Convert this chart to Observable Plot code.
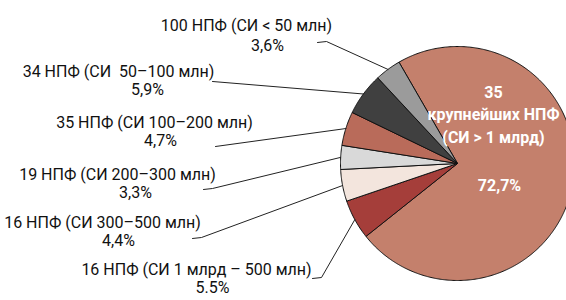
<!DOCTYPE html>
<html>
<head>
<meta charset="utf-8">
<script src="https://cdn.jsdelivr.net/npm/d3@7"></script>
<script src="https://cdn.jsdelivr.net/npm/@observablehq/plot@0.6"></script>
<style>
  html, body { margin: 0; padding: 0; background: #fff; }
  #chart { width: 566px; height: 300px; overflow: hidden; }
</style>
</head>
<body>
<div id="chart"></div>
<script>
// ---- data ----
const categories = [
  "35 крупнейших НПФ (СИ > 1 млрд)",
  "16 НПФ (СИ 1 млрд – 500 млн)",
  "16 НПФ (СИ 300–500 млн)",
  "19 НПФ (СИ 200–300 млн)",
  "35 НПФ (СИ 100–200 млн)",
  "34 НПФ (СИ  50–100 млн)",
  "100 НПФ (СИ < 50 млн)"
];
const shares = [72.7, 5.5, 4.4, 3.3, 4.7, 5.9, 3.6];
const shareLabels = ["72,7%", "5.5%", "4,4%", "3,3%", "4,7%", "5,9%", "3,6%"];
const bigLabelLines = ["35", "крупнейших НПФ", "(СИ > 1 млрд)"];

// ---- styles / layout ----
const colors = ["#c4806c", "#a53e3a", "#f3e5dd", "#d9d9d9", "#b96b5a", "#404040", "#9b9b9b"];
const cx = 457, cy = 163, R = 117;
const startDeg = -30;
const labelLayout = [
  null,
  {nx: 196, px: 212, y1: 269, y2: 287, sx: 312, sy: 278},
  {nx: 102, px: 118, y1: 222, y2: 240, sx: 192, sy: 238},
  {nx: 117, px: 135, y1: 174, y2: 192, sx: 203, sy: 189},
  {nx: 154, px: 160, y1: 122, y2: 140, sx: 215, sy: 146},
  {nx: 118, px: 147, y1: 71,  y2: 89,  sx: 212, sy: 81},
  {nx: 246, px: 267, y1: 25,  y2: 45,  sx: 317, sy: 42}
];
const bigLayout = {x: 493, ys: [92, 114, 137], px: 499, py: 185};

const data = categories.map((c, i) => ({category: c, share: shares[i], label: shareLabels[i], color: colors[i], i}));
const arcs = d3.pie().value(d => d.share).sort(null)
  .startAngle(startDeg * Math.PI / 180)
  .endAngle(startDeg * Math.PI / 180 + 2 * Math.PI)(data);

const px = (a, r) => cx + r * Math.sin(a);
const py = (a, r) => cy - r * Math.cos(a);

const slicePts = [];
for (const a of arcs) {
  const n = Math.max(4, Math.ceil((a.endAngle - a.startAngle) / 0.01));
  slicePts.push({k: a.data.i, x: cx, y: cy, color: a.data.color});
  for (let j = 0; j <= n; j++) {
    const t = a.startAngle + (a.endAngle - a.startAngle) * j / n;
    slicePts.push({k: a.data.i, x: px(t, R), y: py(t, R), color: a.data.color});
  }
  slicePts.push({k: a.data.i, x: cx, y: cy, color: a.data.color});
}

const leaderPts = [];
const nameTexts = [], pctTexts = [];
for (const a of arcs) {
  const i = a.data.i;
  const L = labelLayout[i];
  if (!L) continue;
  const mid = (a.startAngle + a.endAngle) / 2;
  leaderPts.push({k: i, x: L.sx, y: L.sy});
  if (i !== 5 && i !== 4) leaderPts.push({k: i, x: L.sx + 9, y: L.sy - 1});
  leaderPts.push({k: i, x: px(mid, R), y: py(mid, R)});
  nameTexts.push({x: L.nx, y: L.y1, text: a.data.category});
  pctTexts.push({x: L.px, y: L.y2, text: a.data.label});
}
const bigTexts = bigLabelLines.map((t, j) => ({x: bigLayout.x, y: bigLayout.ys[j], text: t}));
bigTexts.push({x: bigLayout.px, y: bigLayout.py, text: shareLabels[0]});

const font = "Roboto, 'DejaVu Sans Condensed', sans-serif";

const chart = Plot.plot({
  width: 566,
  height: 300,
  margin: 0,
  x: {domain: [0, 566], range: [0, 566], axis: null},
  y: {domain: [0, 300], range: [0, 300], axis: null},
  style: {background: "#fff"},
  marks: [
    Plot.line(slicePts, {x: "x", y: "y", z: "k", fill: "color", stroke: "#111", strokeWidth: 1, strokeLinejoin: "round"}),
    Plot.line(leaderPts, {x: "x", y: "y", z: "k", stroke: "#222", strokeWidth: 1}),
    Plot.text(nameTexts, {x: "x", y: "y", text: "text", fontSize: 16, fontFamily: font, fill: "#111", textAnchor: "middle", lineAnchor: "middle"}),
    Plot.text(pctTexts, {x: "x", y: "y", text: "text", fontSize: 16, fontFamily: font, fill: "#111", textAnchor: "middle", lineAnchor: "middle"}),
    Plot.text(bigTexts, {x: "x", y: "y", text: "text", fontSize: 16, fontWeight: "bold", fontFamily: font, fill: "#fff", textAnchor: "middle", lineAnchor: "middle"})
  ]
});
document.getElementById("chart").appendChild(chart);
</script>
</body>
</html>
